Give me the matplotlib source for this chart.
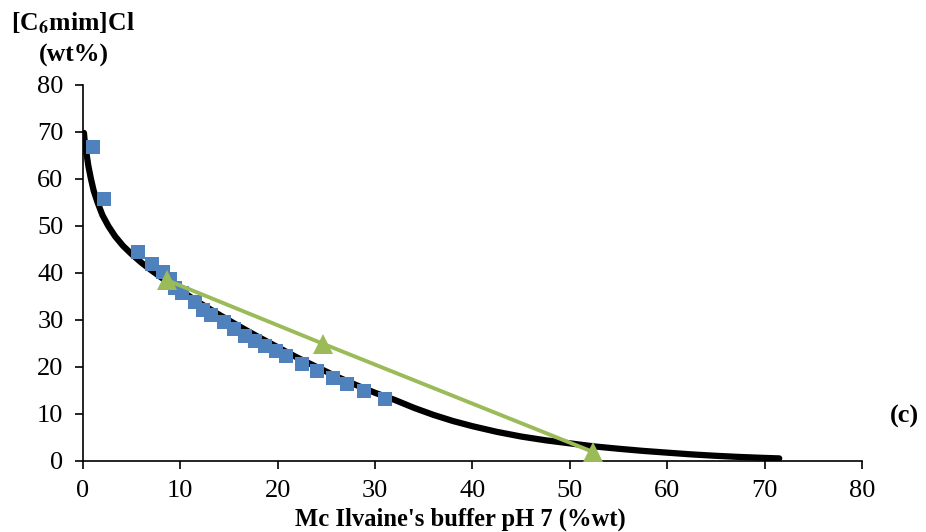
import matplotlib.pyplot as plt

plt.rcParams['font.family'] = 'Liberation Serif'
plt.rcParams['mathtext.fontset'] = 'stix'

# binodal fit curve
curve_x = [0.1, 0.2, 0.35, 0.55, 0.8, 1.1, 1.5, 2.0, 2.6, 3.3, 4.1, 5.0, 6.0, 7.0, 8.0,
           9.0, 10.0, 12.0, 14.0, 16.0, 18.0, 20.0, 22.0, 24.0, 26.0, 28.0, 30.0, 32.0,
           34.0, 36.0, 38.0, 40.0, 42.5, 45.0, 47.5, 50.0, 52.5, 55.0, 57.5, 60.0, 62.5,
           65.0, 67.5, 70.0, 71.5]
curve_y = [69.8, 67.5, 65.6, 62.8, 60.2, 57.5, 55.0, 52.3, 50.0, 47.8, 45.8, 44.0, 42.2,
           40.6, 39.1, 37.7, 36.3, 33.6, 31.1, 28.7, 26.4, 24.2, 22.0, 20.0, 18.0, 16.2,
           14.5, 13.0, 11.3, 9.8, 8.5, 7.4, 6.2, 5.2, 4.4, 3.75, 3.1, 2.6, 2.15, 1.77,
           1.4, 1.1, 0.85, 0.65, 0.55]

# experimental binodal points
exp_x = [1.0, 2.2, 5.6, 7.1, 8.2, 8.9, 9.5, 10.2, 11.5, 12.3, 13.1, 14.5, 15.5, 16.6,
         17.7, 18.7, 19.8, 20.8, 22.5, 24.0, 25.7, 27.1, 28.9, 31.0]
exp_y = [66.8, 55.7, 44.5, 41.9, 40.2, 38.7, 36.8, 35.7, 33.8, 32.1, 31.1, 29.6, 28.1,
         26.6, 25.5, 24.5, 23.4, 22.3, 20.6, 19.1, 17.7, 16.4, 14.9, 13.2]

# tie line
tie_x = [8.6, 24.7, 52.4]
tie_y = [38.5, 24.9, 1.9]

fig = plt.figure(figsize=(9.26, 5.32), dpi=100)
ax = fig.add_axes([0.0896, 0.1335, 0.8413, 0.7068])

ax.plot(curve_x, curve_y, color='black', linewidth=4.5, solid_capstyle='round', zorder=2)
ax.plot(exp_x, exp_y, linestyle='none', marker='s', markersize=10.5,
        color='#4F81BD', markeredgewidth=0, zorder=3)
ax.plot(tie_x, tie_y, color='#9BBB59', linewidth=2.8, marker='^', markersize=15,
        markeredgewidth=0, zorder=4)

ax.set_xlim(0, 80)
ax.set_ylim(0, 80)
ax.set_xticks(range(0, 81, 10))
ax.set_yticks(range(0, 81, 10))
ax.tick_params(direction='out', length=6, width=1.2, labelsize=19, pad=8)
ax.spines['top'].set_visible(False)
ax.spines['right'].set_visible(False)
ax.spines['left'].set_linewidth(1.2)
ax.spines['bottom'].set_linewidth(1.2)

fig.text(0.497, 0.023, "Mc Ilvaine's buffer pH 7 (%wt)", ha='center', va='center',
         fontsize=17.7, fontweight='bold')
fig.text(0.079, 0.957, r'[C$_\mathbf{6}$mim]Cl', ha='center', va='center',
         fontsize=18.5, fontweight='bold')
fig.text(0.080, 0.895, '(wt%)', ha='center', va='center', fontsize=18.5, fontweight='bold')
fig.text(0.977, 0.218, '(c)', ha='center', va='center', fontsize=19, fontweight='bold')

plt.savefig('out.png', dpi=100)
